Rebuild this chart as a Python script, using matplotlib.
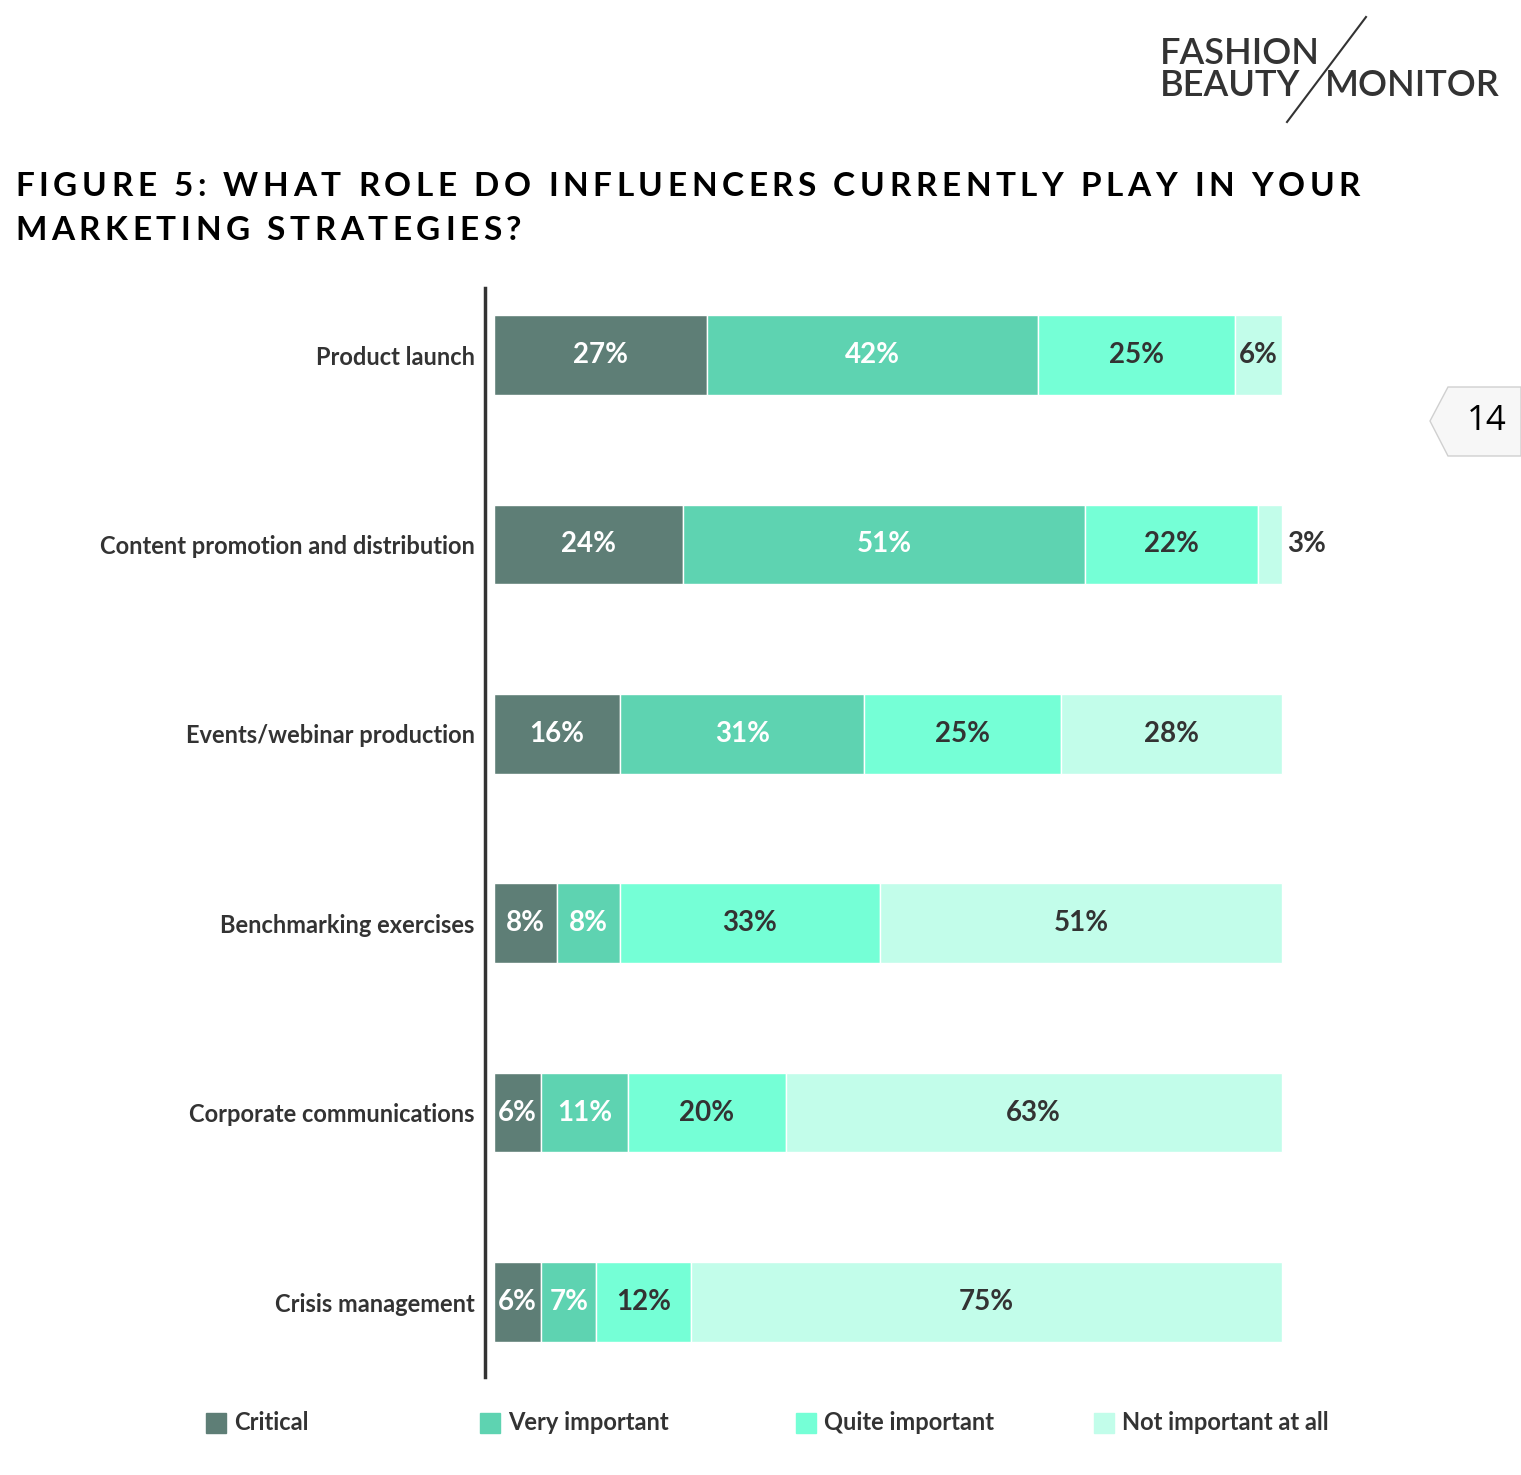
import numpy as np
import matplotlib.pyplot as plt
from matplotlib.patches import Rectangle, Polygon
from matplotlib.lines import Line2D
from matplotlib.font_manager import FontProperties
from matplotlib.textpath import TextToPath

plt.rcParams['font.family'] = ['Lato', 'DejaVu Sans']

categories = ['Product launch', 'Content promotion and distribution',
              'Events/webinar production', 'Benchmarking exercises',
              'Corporate communications', 'Crisis management']
series = ['Critical', 'Very important', 'Quite important', 'Not important at all']
critical = [27, 24, 16, 8, 6, 6]
very_important = [42, 51, 31, 8, 11, 7]
quite_important = [25, 22, 25, 33, 20, 12]
not_important = [6, 3, 28, 51, 63, 75]

title_lines = ['FIGURE 5: WHAT ROLE DO INFLUENCERS CURRENTLY PLAY IN YOUR',
               'MARKETING STRATEGIES?']

colors = ['#5e7e76', '#5ed3b1', '#75ffd6', '#c2fdea']
text_colors = ['white', 'white', '#333333', '#333333']
dark = '#333333'
W, H = 1521, 1475

fig = plt.figure(figsize=(15.21, 14.75), dpi=100)
ax = fig.add_axes([485 / W, 1 - 1377 / H, (1330 - 485) / W, (1377 - 288) / H])

values = [critical, very_important, quite_important, not_important]
y = np.arange(len(categories))
left = np.zeros(len(categories))
for i, vals in enumerate(values):
    vals = np.array(vals, dtype=float)
    ax.barh(y, vals, left=left, height=0.42, color=colors[i],
            edgecolor='white', linewidth=1)
    for j, v in enumerate(vals):
        if v <= 3:
            # too thin, put the label outside the bar
            ax.text(left[j] + v + 0.6, y[j], f'{int(v)}%', ha='left', va='center',
                    fontsize=20, fontweight='bold', color=dark)
        else:
            ax.text(left[j] + v / 2, y[j], f'{int(v)}%', ha='center', va='center',
                    fontsize=20, fontweight='bold', color=text_colors[i])
    left += vals

ax.set_xlim(-1.14, 106.1)
ax.set_ylim(5.396, -0.354)
ax.set_yticks(y)
ax.set_yticklabels(categories, fontsize=17, fontweight='bold', color=dark)
ax.tick_params(axis='y', length=0, pad=7.5)
ax.set_xticks([])
for s in ['top', 'right', 'bottom']:
    ax.spines[s].set_visible(False)
ax.spines['left'].set_linewidth(2.5)
ax.spines['left'].set_color(dark)

# title, drawn letter by letter to get the wide tracking
title_prop = FontProperties(family='Lato', weight='bold', size=24)
ttp = TextToPath()
widths = [ttp.get_text_width_height_descent(c, title_prop, ismath=False)[0] * 100 / 72
          for c in title_lines[0]]
track = (1345 - sum(widths)) / (len(title_lines[0]) - 1)
for line, ypix in zip(title_lines, [187, 230]):
    xpix = 15
    for c in line:
        fig.text(xpix / W, 1 - ypix / H, c, fontproperties=title_prop,
                 color='black', va='center')
        xpix += ttp.get_text_width_height_descent(c, title_prop, ismath=False)[0] * 100 / 72 + track

# legend
leg_x = [206, 480, 796, 1094]
for i, name in enumerate(series):
    fig.patches.append(Rectangle((leg_x[i] / W, 1 - 1433 / H), 20 / W, 20 / H,
                                 transform=fig.transFigure, color=colors[i]))
    fig.text((leg_x[i] + 28) / W, 1 - 1423 / H, name, fontsize=17,
             fontweight='bold', color=dark, va='center')

# logo
fig.text(1160 / W, 1 - 54 / H, 'FASHION', fontsize=26, fontweight='semibold',
         color=dark, va='center')
fig.text(1160 / W, 1 - 86 / H, 'BEAUTY', fontsize=26, fontweight='semibold',
         color=dark, va='center')
fig.text(1325 / W, 1 - 86 / H, 'MONITOR', fontsize=26, fontweight='semibold',
         color=dark, va='center')
fig.add_artist(Line2D([1366 / W, 1287 / W], [1 - 17 / H, 1 - 122 / H],
                      transform=fig.transFigure, color=dark, linewidth=1.5))

# page tab
tab = [(1521, 387), (1448, 387), (1430, 421), (1448, 456), (1521, 456)]
fig.patches.append(Polygon([(px / W, 1 - py / H) for px, py in tab], closed=True,
                           transform=fig.transFigure, facecolor='#f7f7f7',
                           edgecolor='#d0d0d0', linewidth=1))
fig.text(1487 / W, 1 - 421 / H, '14', fontsize=25, color='black',
         ha='center', va='center', family='Open Sans')

fig.savefig('out.png', dpi=100, facecolor='white')
